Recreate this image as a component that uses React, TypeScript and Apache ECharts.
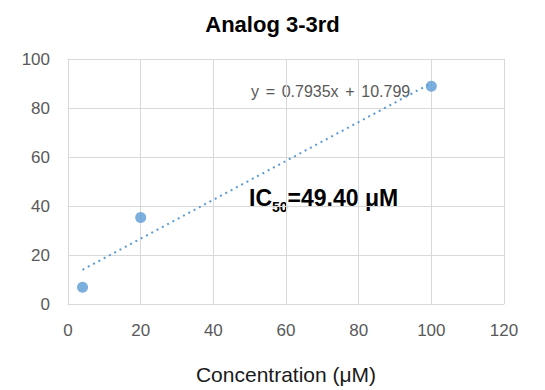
import React, { useEffect, useRef } from "react";
import * as echarts from "echarts";

const concentrations = [4, 20, 100];
const inhibition = [6.8, 35.3, 88.9];
const slope = 0.7935;
const intercept = 10.799;
const trendX = [4, 100];
const xTicks = [0, 120, 20];
const yTicks = [0, 100, 20];

const FONT = "Liberation Sans";

export default function App() {
  const ref = useRef<HTMLDivElement>(null);
  useEffect(() => {
    document.body.style.margin = "0";
    const chart = echarts.init(ref.current!, null, { renderer: "svg" });
    const pts = concentrations.map((x, i) => [x, inhibition[i]]);
    const trend = trendX.map((x) => [x, slope * x + intercept]);
    chart.setOption({
      animation: false,
      title: {
        text: "Analog 3-3rd",
        left: "center",
        top: 8,
        textStyle: { fontFamily: FONT, fontWeight: "bold", fontSize: 22, color: "#000" },
      },
      grid: { left: 68, right: 41, top: 59, bottom: 85 },
      xAxis: {
        type: "value",
        min: xTicks[0],
        max: xTicks[1],
        interval: xTicks[2],
        name: "Concentration (μM)",
        nameLocation: "middle",
        nameGap: 60,
        nameTextStyle: { fontFamily: FONT, fontSize: 21, color: "#1a1a1a" },
        axisLine: { show: true, lineStyle: { color: "#d9d9d9" } },
        axisTick: { show: false },
        axisLabel: { fontFamily: FONT, fontSize: 17, color: "#595959", margin: 18 },
        splitLine: { show: true, lineStyle: { color: "#d9d9d9" } },
      },
      yAxis: {
        type: "value",
        min: yTicks[0],
        max: yTicks[1],
        interval: yTicks[2],
        axisLine: { show: true, lineStyle: { color: "#d9d9d9" } },
        axisTick: { show: false },
        axisLabel: { fontFamily: FONT, fontSize: 17, color: "#595959", margin: 18 },
        splitLine: { show: true, lineStyle: { color: "#d9d9d9" } },
      },
      series: [
        {
          type: "line",
          data: trend,
          showSymbol: false,
          symbol: "none",
          lineStyle: { color: "#5b9bd5", width: 2, type: [2, 4] },
          z: 2,
        },
        {
          type: "scatter",
          data: pts,
          symbolSize: 11,
          itemStyle: { color: "#5b9bd5" },
          z: 3,
        },
      ],
      graphic: [
        {
          type: "text",
          x: 251,
          y: 91,
          style: {
            text: "{a|y}{s| }{a|=}{s| }{a|0.7935x}{s| }{a|+}{s| }{a|10.799}",
            verticalAlign: "middle",
            rich: {
              a: { fontFamily: FONT, fontSize: 16, fill: "#595959", lineHeight: 20 },
              s: { fontFamily: FONT, fontSize: 24, fill: "#595959", lineHeight: 20 },
            },
          },
        },
        {
          type: "text",
          x: 249,
          y: 183,
          style: {
            text: "{a|IC}{b|50}{a|=49.40 μM}",
            rich: {
              a: { fontFamily: FONT, fontSize: 23, fontWeight: "bold", fill: "#000", verticalAlign: "bottom", lineHeight: 26 },
              b: { fontFamily: FONT, fontSize: 14, fontWeight: "bold", fill: "#000", verticalAlign: "bottom", lineHeight: 14, padding: [0, 0, -5, 0] },
            },
          },
        },
      ],
    });
    return () => chart.dispose();
  }, []);
  return <div ref={ref} style={{ width: 545, height: 390 }} />;
}
